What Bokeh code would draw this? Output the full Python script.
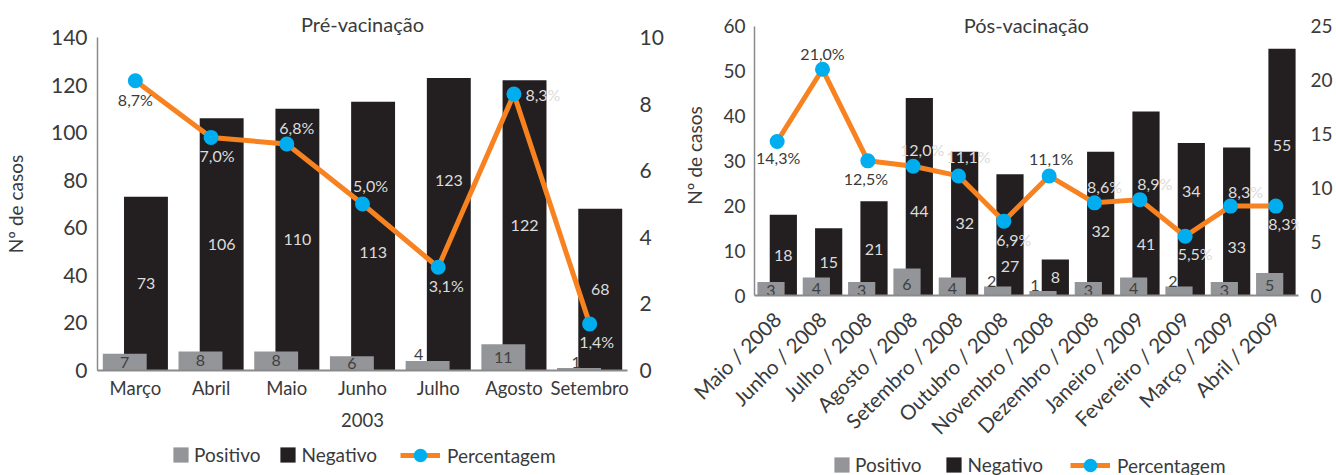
from bokeh.plotting import figure
from bokeh.models import (FactorRange, Range1d, LinearAxis, ColumnDataSource,
                          Legend, LegendItem, FixedTicker)
from bokeh.transform import dodge
from bokeh.layouts import row, column
from bokeh.embed import file_html
from bokeh.resources import INLINE
import math

# ---------------- data ----------------
pre_title = "Pré-vacinação"
pre_months = ["Março", "Abril", "Maio", "Junho", "Julho", "Agosto", "Setembro"]
pre_positivo = [7, 8, 8, 6, 4, 11, 1]
pre_negativo = [73, 106, 110, 113, 123, 122, 68]
pre_percent = [8.7, 7.0, 6.8, 5.0, 3.1, 8.3, 1.4]
pre_year = "2003"
pre_yticks = [0, 20, 40, 60, 80, 100, 120, 140]
pre_pticks = [0, 2, 4, 6, 8, 10]

post_title = "Pós-vacinação"
post_months = ["Maio / 2008", "Junho / 2008", "Julho / 2008", "Agosto / 2008",
               "Setembro / 2008", "Outubro / 2008", "Novembro / 2008",
               "Dezembro / 2008", "Janeiro / 2009", "Fevereiro / 2009",
               "Março / 2009", "Abril / 2009"]
post_positivo = [3, 4, 3, 6, 4, 2, 1, 3, 4, 2, 3, 5]
post_negativo = [18, 15, 21, 44, 32, 27, 8, 32, 41, 34, 33, 55]
post_percent = [14.3, 21.0, 12.5, 12.0, 11.1, 6.9, 11.1, 8.6, 8.9, 5.5, 8.3, 8.3]
post_yticks = [0, 10, 20, 30, 40, 50, 60]
post_pticks = [0, 5, 10, 15, 20, 25]

legend_labels = ["Positivo", "Negativo", "Percentagem"]
y_label = "Nº de casos"

# ---------------- label placement (layout, not data) ----------------
pre_neg_label_y = [36.5, 53, 55, 49.7, 79.8, 61, 34]
pre_pos_label_y = [3.5, 4, 4, 3, 6.7, 5.5, 3.4]
pre_pos_label_dx = [0, 0, 0, 0, -9, 0, -3]
pre_pct_dx = [0, 6, 10, 8, 8, 29, 7]
pre_pct_dy = [19, 18, -17, -19, 18, 0, 18]
pre_pct_light = [False, True, True, True, True, True, True]

post_neg_label_y = [8.9, 7.4, 10.2, 18.8, 16, 6.5, 3.9, 14.3, 11.3, 23.2, 10.8, 33.5]
post_pos_label_y = [1.1, 1.5, 1.1, 2.4, 1.5, 3.2, 2.2, 1.1, 1.5, 3.2, 1.1, 2.2]
post_pos_label_dx = [0, 0, 0, 0, 0, -6, -8, 0, 0, -6, 0, 0]
post_pct_dx = [1, 0, -2, 9, 10, 10, 2, 10, 15, 10, 15, 10]
post_pct_dy = [16, -16, 18, -17, -19, 18, -17, -16, -16, 17, -15, 17]
post_pct_light = [False, False, False, True, True, True, False, True, True, True, True, True]

FONT = "Lato"
POS_C = "#939598"
NEG_C = "#231f20"
LINE_C = "#f7821f"
DOT_C = "#00aeef"
TXT = "#3a3a3a"
LIGHT = "#dcdcdc"
AXIS_C = "#8a8a8a"


def fmt(v):
    return ("%.1f%%" % v).replace(".", ",")


def style_axis(ax, size, standoff):
    ax.major_tick_line_color = None
    ax.minor_tick_line_color = None
    ax.major_tick_out = 0
    ax.major_tick_in = 0
    ax.minor_tick_out = 0
    ax.minor_tick_in = 0
    ax.major_label_text_font = FONT
    ax.major_label_text_font_size = size
    ax.major_label_text_color = TXT
    ax.major_label_standoff = standoff


def make_chart(title, months, pos, neg, pct, yticks, pticks, neg_ly, pos_ly, pos_dx,
               pdx, pdy, plight, width, height, borders, off, bw, fs,
               ystand, xstand, ylab_standoff, xlabel=None, xrot=None,
               title_standoff=4, inner_title=None):
    """inner_title: (pixel of top tick, pixel of title centre) from the top;
    the frame is then extended above the top tick so the title sits inside it."""
    bl, br, bt, bb = borders
    n = len(months)
    ymax, pmax = yticks[-1], pticks[-1]
    bottom_px = height - bb
    ext = 1.0
    if inner_title is not None:
        ext = (bottom_px - bt) / (bottom_px - inner_title[0])
    p = figure(x_range=FactorRange(*months, range_padding=0),
               y_range=Range1d(0, ymax * ext), width=width, height=height,
               output_backend="svg", toolbar_location=None,
               min_border_left=bl, min_border_right=br, min_border_top=bt,
               min_border_bottom=bb)
    p.frame_align = False
    p.extra_y_ranges = {"pct": Range1d(0, pmax * ext)}
    p.outline_line_color = None
    p.xgrid.grid_line_color = None
    p.ygrid.grid_line_color = None

    if inner_title is None:
        p.title.text = title
        p.title.align = "center"
        p.title.text_font = FONT
        p.title.text_font_style = "normal"
        p.title.text_font_size = fs["title"]
        p.title.text_color = TXT
        p.title.standoff = title_standoff

    yax = p.yaxis[0]
    yax.ticker = FixedTicker(ticks=yticks)
    yax.bounds = (0, ymax)
    yax.axis_line_color = AXIS_C
    yax.axis_line_width = 1.5
    style_axis(yax, fs["ytick"], ystand)
    yax.axis_label = y_label
    yax.axis_label_text_font = FONT
    yax.axis_label_text_font_style = "normal"
    yax.axis_label_text_font_size = fs["ylabel"]
    yax.axis_label_text_color = TXT
    yax.axis_label_standoff = ylab_standoff

    xax = p.xaxis[0]
    xax.axis_line_color = AXIS_C
    xax.axis_line_width = 2
    style_axis(xax, fs["xtick"], xstand)
    if xrot is not None:
        xax.major_label_orientation = xrot
    if xlabel:
        xax.axis_label = xlabel
        xax.axis_label_text_font = FONT
        xax.axis_label_text_font_style = "normal"
        xax.axis_label_text_font_size = fs["xtick"]
        xax.axis_label_text_color = TXT
        xax.axis_label_standoff = 11

    rax = LinearAxis(y_range_name="pct", ticker=FixedTicker(ticks=pticks),
                     bounds=(0, pmax))
    rax.axis_line_color = None
    style_axis(rax, fs["ytick"], 12)
    p.add_layout(rax, "right")

    src = ColumnDataSource(dict(
        m=months, pos=pos, neg=neg, pct=pct,
        neg_ly=neg_ly, pos_ly=pos_ly, pos_dx=pos_dx,
        neg_t=[str(v) for v in neg], pos_t=[str(v) for v in pos],
        pct_t=[fmt(v) for v in pct], pdx=pdx, pdy=pdy,
        pcol=[LIGHT if l else TXT for l in plight],
    ))

    p.vbar(x=dodge("m", off, range=p.x_range), top="neg", width=bw,
           fill_color=NEG_C, line_color=None, source=src)
    p.vbar(x=dodge("m", -off, range=p.x_range), top="pos", width=bw,
           fill_color=POS_C, line_color=None, source=src)
    p.line(x="m", y="pct", y_range_name="pct", line_width=5,
           line_color=LINE_C, source=src)
    p.scatter(x="m", y="pct", y_range_name="pct", size=15,
              fill_color=DOT_C, line_color=None, source=src)

    p.text(x=dodge("m", off, range=p.x_range), y="neg_ly", text="neg_t",
           text_align="center", text_baseline="middle", text_color=LIGHT,
           text_font={"value": FONT}, text_font_size=fs["data"], source=src)
    p.text(x=dodge("m", -off, range=p.x_range), y="pos_ly", text="pos_t",
           x_offset="pos_dx",
           text_align="center", text_baseline="middle", text_color="#404040",
           text_font={"value": FONT}, text_font_size=fs["data"], source=src)
    p.text(x="m", y="pct", y_range_name="pct", text="pct_t", x_offset="pdx",
           y_offset="pdy", text_align="center", text_baseline="middle",
           text_color="pcol", text_font={"value": FONT},
           text_font_size=fs["data"], source=src)

    if inner_title is not None:
        top_tick_px, title_px = inner_title
        ty = ymax * (bottom_px - title_px) / (bottom_px - top_tick_px)
        band = (width - bl - br) / n
        xoff = -band / 2 if n % 2 == 0 else 0
        p.text(x=[months[n // 2]], y=[ty], text=[title], x_offset=xoff,
               text_align="center", text_baseline="middle", text_color=TXT,
               text_font={"value": FONT}, text_font_size=fs["title"])
    return p


def make_legend(width, height, a_loc, a_spacing, b_loc, fsize):
    lf = figure(width=width, height=height, x_range=Range1d(0, 1),
                y_range=Range1d(0, 1), x_axis_type=None, y_axis_type=None,
                output_backend="svg", toolbar_location=None, min_border=0)
    lf.frame_align = False
    lf.outline_line_color = None
    lf.grid.visible = False
    # swatch renderers: one point each, lying outside the (clipped) frame
    r_pos = lf.vbar(x=[5], top=[5], width=0.1, fill_color=POS_C, line_color=None)
    r_neg = lf.vbar(x=[5], top=[5], width=0.1, fill_color=NEG_C, line_color=None)
    r_ln = lf.line(x=[5, 6], y=[5, 5], line_width=5, line_color=LINE_C)
    r_dt = lf.scatter(x=[5], y=[5], size=15, fill_color=DOT_C, line_color=None)
    common = dict(orientation="horizontal", padding=0, margin=0,
                  border_line_color=None, background_fill_alpha=0,
                  label_text_font=FONT, label_text_font_size=fsize,
                  label_text_color=TXT)
    legA = Legend(items=[LegendItem(label=legend_labels[0], renderers=[r_pos]),
                         LegendItem(label=legend_labels[1], renderers=[r_neg])],
                  location=a_loc, glyph_width=19, glyph_height=19,
                  label_standoff=4, spacing=a_spacing, label_height=19, **common)
    legB = Legend(items=[LegendItem(label=legend_labels[2], renderers=[r_ln, r_dt])],
                  location=b_loc, glyph_width=40, glyph_height=34,
                  label_standoff=7, **common)
    lf.add_layout(legA, "center")
    lf.add_layout(legB, "center")
    return lf


fs_pre = dict(title="20px", ytick="21px", ylabel="19px", xtick="18.5px",
              data="16px", legend="19px")
fs_post = dict(title="20px", ytick="19px", ylabel="19px", xtick="20.5px",
               data="16px", legend="19px")

p1 = make_chart(pre_title, pre_months, pre_positivo, pre_negativo, pre_percent,
                pre_yticks, pre_pticks, pre_neg_label_y, pre_pos_label_y,
                pre_pos_label_dx, pre_pct_dx, pre_pct_dy, pre_pct_light,
                width=680, height=435, borders=(97, 53, 37, 65), off=0.14, bw=0.58,
                fs=fs_pre, ystand=10, xstand=6, ylab_standoff=21,
                xlabel=pre_year, title_standoff=4)
p2 = make_chart(post_title, post_months, post_positivo, post_negativo, post_percent,
                post_yticks, post_pticks, post_neg_label_y, post_pos_label_y,
                post_pos_label_dx, post_pct_dx, post_pct_dy, post_pct_light,
                width=656, height=450, borders=(69, 38, 15, 147), off=0.136, bw=0.6,
                fs=fs_post, ystand=9, xstand=20, ylab_standoff=14,
                xrot=math.pi / 4, inner_title=(26, 25))

l1 = make_legend(680, 40, (171, 9), 18, (400, 3), "19px")
l2 = make_legend(656, 25, (152, -1), 23, (390, -7), "19px")

layout = row(column(p1, l1), column(p2, l2))
open("out.html", "w").write(file_html(layout, INLINE))
